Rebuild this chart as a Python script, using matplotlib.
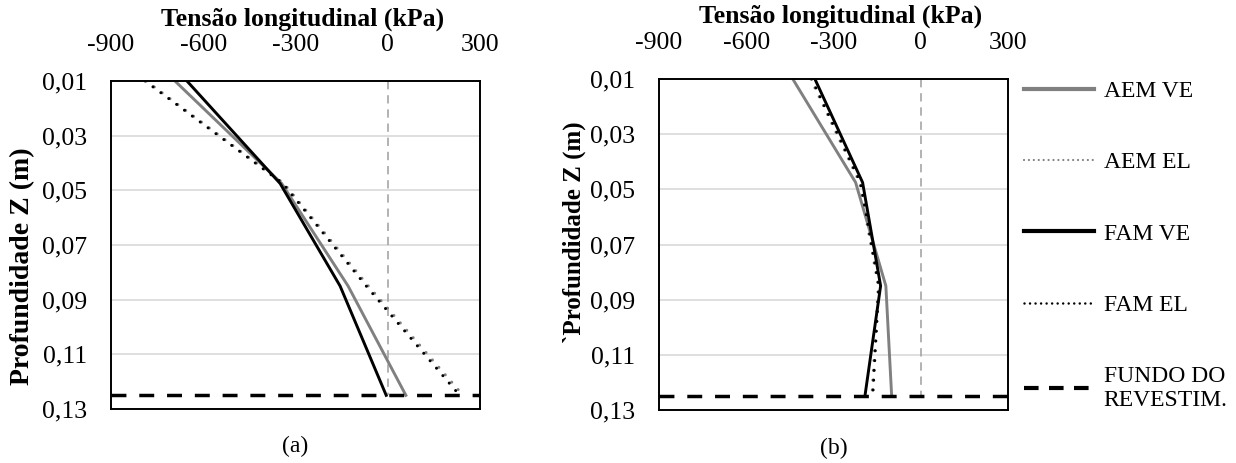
import numpy as np
import matplotlib
matplotlib.use("Agg")
import matplotlib.pyplot as plt
from matplotlib.lines import Line2D

plt.rcParams['font.family'] = ['Liberation Serif', 'DejaVu Serif']
plt.rcParams['axes.unicode_minus'] = False

# profundidades dos pontos (m)
depth = [0.01, 0.0475, 0.085, 0.125]

# (a) tensoes longitudinais (kPa)
a_aem_ve = [-692, -345, -129, 59]
a_aem_el = [-785, -338, -63, 245]
a_fam_ve = [-653, -350, -155, -5]
a_fam_el = [-789, -341, -70, 234]

# (b)
b_aem_ve = [-440, -224, -120, -100]
b_aem_el = [-378, -210, -146, -168]
b_fam_ve = [-364, -200, -138, -192]
b_fam_el = [-375, -207, -144, -165]

# fundo do revestimento e linha do zero
fundo_x = [-900, 300]
fundo_y = [0.125, 0.125]
zero_x = [0, 0]
zero_y = [0.01, 0.125]

xticks = [-900, -600, -300, 0, 300]
yticks = [0.01, 0.03, 0.05, 0.07, 0.09, 0.11, 0.13]
ytick_labels = ["0,01", "0,03", "0,05", "0,07", "0,09", "0,11", "0,13"]

FS = 17
TFS = 18.5
gray = '#808080'
dot = (0, (0.01, 3.2))
dash = (0, (4.3, 3.7))

fig = plt.figure(figsize=(12.36, 4.63), dpi=100)
W, H = 1236, 463
ax_a = fig.add_axes([111 / W, (H - 409) / H, 369 / W, 328 / H])
ax_b = fig.add_axes([659 / W, (H - 410) / H, 349 / W, 331 / H])


def draw(ax, aem_ve, aem_el, fam_ve, fam_el, ylabel, ylab_fs, caption):
    ax.plot(zero_x, zero_y, color='#a6a6a6', lw=1.2, ls=(0, (5, 3.5)))
    ax.plot(aem_el, depth, color=gray, lw=2.2, ls=dot, dash_capstyle='round')
    ax.plot(aem_ve, depth, color=gray, lw=2.1)
    ax.plot(fam_el, depth, color='black', lw=2.2, ls=dot, dash_capstyle='round')
    ax.plot(fam_ve, depth, color='black', lw=2.1)
    ax.plot(fundo_x, fundo_y, color='black', lw=2.5, ls=dash, clip_on=False)

    ax.set_xlim(-900, 300)
    ax.set_ylim(0.13, 0.01)
    ax.set_xticks(xticks)
    ax.set_yticks(yticks)
    ax.set_yticklabels(ytick_labels)
    ax.xaxis.tick_top()
    ax.tick_params(axis='x', length=0, pad=18, labelsize=TFS)
    ax.tick_params(axis='y', length=0, pad=17, labelsize=TFS)
    ax.grid(axis='y', color='#d9d9d9', lw=1.2)
    ax.set_axisbelow(True)
    for s in ax.spines.values():
        s.set_linewidth(1.4)
        s.set_color('black')

    ax.xaxis.set_label_position('top')
    ax.set_xlabel("Tensão longitudinal (kPa)", fontsize=18.5, fontweight='bold')
    ax.xaxis.set_label_coords(0.52, 1.17)
    ax.set_ylabel(ylabel, fontsize=ylab_fs, fontweight='bold')
    ax.text(0.5, -0.115, caption, transform=ax.transAxes, ha='center',
            va='center', fontsize=FS)


draw(ax_a, a_aem_ve, a_aem_el, a_fam_ve, a_fam_el,
     "Profundidade Z (m)", 20, "(a)")
ax_a.yaxis.set_label_coords(-0.205, 0.436)
draw(ax_b, b_aem_ve, b_aem_el, b_fam_ve, b_fam_el,
     "`Profundidade Z (m)", 18, "(b)")
ax_b.yaxis.set_label_coords(-0.21, 0.538)

handles = [
    Line2D([], [], color=gray, lw=3),
    Line2D([], [], color=gray, lw=1.6, ls=(0, (0.01, 2.2)), dash_capstyle='round'),
    Line2D([], [], color='black', lw=3),
    Line2D([], [], color='black', lw=1.8, ls=(0, (0.01, 2.2)), dash_capstyle='round'),
    Line2D([], [], color='black', lw=3, ls=(0, (3.5, 2.5))),
]
labels = ["AEM VE", "AEM EL", "FAM VE", "FAM EL", "FUNDO DO\nREVESTIM."]
fig.legend(handles, labels, loc='upper left', bbox_to_anchor=(1015 / W, 1 - 71 / H),
           frameon=False, fontsize=FS, handlelength=2.95, handletextpad=0.4,
           labelspacing=2.11, borderaxespad=0)

fig.savefig("out.png", dpi=100)
